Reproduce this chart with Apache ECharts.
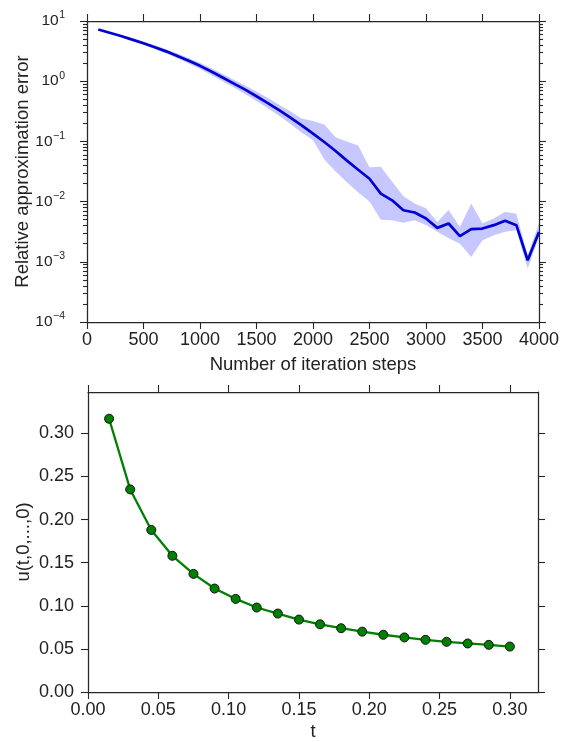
<!DOCTYPE html>
<html><head><meta charset="utf-8">
<script src="https://cdn.jsdelivr.net/npm/echarts@6/dist/echarts.min.js"></script>
<style>html,body{margin:0;padding:0;background:#fff}#c{width:568px;height:742px}</style>
</head><body><div id="c"></div>
<script>
// ---- top chart: relative approximation error vs iteration steps ----
const steps = [100,200,300,400,500,600,700,800,900,1000,1100,1200,1300,1400,1500,1600,1700,1800,1900,2000,
               2100,2200,2300,2400,2500,2600,2700,2800,2900,3000,3100,3200,3300,3400,3500,3600,3700,3800,3900,4000];
const errMean  = [7.24,6.38,5.62,4.90,4.27,3.67,3.13,2.63,2.19,1.80,1.45,1.15,0.912,0.724,0.562,0.432,0.331,0.248,0.184,0.135,
                  0.0977,0.0692,0.0479,0.0339,0.0240,0.0136,0.0105,0.00719,0.00659,0.00525,0.00366,0.00433,0.00266,0.00348,0.00357,0.00406,0.00479,0.00406,0.00106,0.00314];
const errUpper = [7.41,6.53,5.82,5.13,4.52,3.94,3.39,2.88,2.43,2.02,1.64,1.32,1.06,0.851,0.676,0.525,0.407,0.316,0.240,0.219,
                  0.191,0.117,0.100,0.0851,0.0372,0.0380,0.0214,0.0123,0.00933,0.00776,0.00457,0.00724,0.00380,0.00933,0.00437,0.00525,0.00676,0.00631,0.00129,0.00437];
const errLower = [7.08,6.24,5.43,4.68,4.03,3.43,2.88,2.40,1.97,1.60,1.27,1.00,0.785,0.610,0.468,0.355,0.266,0.195,0.141,0.105,
                  0.0501,0.0316,0.0209,0.0141,0.0100,0.00501,0.00490,0.00447,0.00490,0.00407,0.00316,0.00245,0.00200,0.00120,0.00229,0.00275,0.00316,0.00335,0.000776,0.00257];
const stepTicks = [0,500,1000,1500,2000,2500,3000,3500,4000];
const errTicks = [1e-4,1e-3,1e-2,1e-1,1,10];

// ---- bottom chart: u(t,0,...,0) vs t ----
const tValues = [0.015,0.03,0.045,0.06,0.075,0.09,0.105,0.12,0.135,0.15,0.165,0.18,0.195,0.21,0.225,0.24,0.255,0.27,0.285,0.30];
const uValues = [0.317,0.235,0.188,0.158,0.137,0.120,0.108,0.098,0.091,0.084,0.0785,0.074,0.070,0.0664,0.0633,0.0605,0.0582,0.0563,0.0547,0.0527];
const tTicks = [0,0.05,0.10,0.15,0.20,0.25,0.30];
const uTicks = [0,0.05,0.10,0.15,0.20,0.25,0.30];

const errMinorTicks = [];
for (let i = 0; i < errTicks.length - 1; i++) for (let k = 2; k <= 9; k++) errMinorTicks.push(+(errTicks[i] * k).toPrecision(3));

const FONT = 'Liberation Sans, Arial, Helvetica, sans-serif';
const AX = '#262626';
const TXT = '#222222';
const FS = 18;
const NFS = 18.5;

function axLine(show) { return { show: show, onZero: false, lineStyle: { color: AX, width: 1.25 } }; }
function tick(vals, len) { return { show: true, inside: false, length: len, customValues: vals, lineStyle: { color: AX, width: 1.1 } }; }
function nameStyle() { return { fontSize: NFS, color: TXT, fontFamily: FONT }; }

const supFmt = v => {
  const e = Math.round(Math.log10(v));
  return '{b|10}{s|' + (e < 0 ? '\u2212' + (-e) : e) + '}';
};

const option = {
  animation: false,
  backgroundColor: '#ffffff',
  grid: [
    { left: 87, top: 21, width: 452, height: 301 },
    { left: 88, top: 392, width: 450, height: 300 }
  ],
  xAxis: [
    { gridIndex: 0, type: 'value', min: 0, max: 4000, position: 'bottom',
      axisLine: axLine(true), axisTick: tick(stepTicks, 7), splitLine: { show: false },
      axisLabel: { customValues: stepTicks, margin: 9, fontSize: FS, color: TXT, fontFamily: FONT, formatter: v => String(v) },
      name: 'Number of iteration steps', nameLocation: 'middle', nameGap: 33, nameMoveOverlap: false, nameTextStyle: nameStyle() },
    { gridIndex: 0, type: 'value', min: 0, max: 4000, position: 'top',
      axisLine: axLine(true), axisTick: tick(stepTicks, 7), splitLine: { show: false }, axisLabel: { show: false } },
    { gridIndex: 1, type: 'value', min: 0, max: 0.32, position: 'bottom',
      axisLine: axLine(true), axisTick: tick(tTicks, 7), splitLine: { show: false },
      axisLabel: { customValues: tTicks, margin: 9, fontSize: FS, color: TXT, fontFamily: FONT, formatter: v => v.toFixed(2) },
      name: 't', nameLocation: 'middle', nameGap: 30, nameMoveOverlap: false, nameTextStyle: nameStyle() },
    { gridIndex: 1, type: 'value', min: 0, max: 0.32, position: 'top',
      axisLine: axLine(true), axisTick: tick(tTicks, 7), splitLine: { show: false }, axisLabel: { show: false } }
  ],
  yAxis: [
    { gridIndex: 0, type: 'log', logBase: 10, min: 1e-4, max: 10, position: 'left',
      axisLine: axLine(true), axisTick: tick(errTicks, 7), splitLine: { show: false }, minorTick: { show: false },
      axisLabel: { customValues: errTicks, margin: 22, formatter: supFmt,
        rich: { b: { fontSize: 15.5, color: TXT, fontFamily: FONT, verticalAlign: 'bottom', padding: [3, 0, 3, 0] },
                s: { fontSize: 10.5, color: TXT, fontFamily: FONT, verticalAlign: 'top', padding: [0, 0, 0, 0.5] } } },
      name: 'Relative approximation error', nameLocation: 'middle', nameGap: 55, nameRotate: 90, nameMoveOverlap: false, nameTextStyle: nameStyle() },
    { gridIndex: 0, type: 'log', logBase: 10, min: 1e-4, max: 10, position: 'right',
      axisLine: axLine(true), axisTick: tick(errTicks, 7), splitLine: { show: false }, axisLabel: { show: false } },
    { gridIndex: 0, type: 'log', logBase: 10, min: 1e-4, max: 10, position: 'left',
      axisLine: axLine(false), axisTick: tick(errMinorTicks, 4), splitLine: { show: false }, axisLabel: { show: false } },
    { gridIndex: 0, type: 'log', logBase: 10, min: 1e-4, max: 10, position: 'right',
      axisLine: axLine(false), axisTick: tick(errMinorTicks, 4), splitLine: { show: false }, axisLabel: { show: false } },
    { gridIndex: 1, type: 'value', min: 0, max: 0.348, position: 'left',
      axisLine: axLine(true), axisTick: tick(uTicks, 7), splitLine: { show: false },
      axisLabel: { customValues: uTicks, margin: 14, fontSize: FS, color: TXT, fontFamily: FONT, formatter: v => v.toFixed(2) },
      name: 'u(t,0,...,0)', nameLocation: 'middle', nameGap: 55, nameRotate: 90, nameMoveOverlap: false, nameTextStyle: nameStyle() },
    { gridIndex: 1, type: 'value', min: 0, max: 0.348, position: 'right',
      axisLine: axLine(true), axisTick: tick(uTicks, 7), splitLine: { show: false }, axisLabel: { show: false } }
  ],
  series: [
    { type: 'custom', xAxisIndex: 0, yAxisIndex: 0, silent: true, z: 1,
      data: [[steps[0], errMean[0]]],
      renderItem: function (params, api) {
        const up = steps.map((s, i) => api.coord([s, errUpper[i]]));
        const lo = steps.map((s, i) => api.coord([s, errLower[i]])).reverse();
        return { type: 'polygon', shape: { points: up.concat(lo) }, style: { fill: 'rgba(0,0,255,0.22)' } };
      } },
    { type: 'line', xAxisIndex: 0, yAxisIndex: 0, z: 3, showSymbol: false, symbol: 'none',
      data: steps.map((s, i) => [s, errMean[i]]),
      lineStyle: { color: '#0000d4', width: 2.7 } },
    { type: 'line', xAxisIndex: 2, yAxisIndex: 4, z: 3, symbol: 'circle', symbolSize: 9,
      data: tValues.map((t, i) => [t, uValues[i]]),
      lineStyle: { color: '#008000', width: 2.3 },
      itemStyle: { color: '#008000', borderColor: '#111111', borderWidth: 1 } }
  ]
};

const chart = echarts.init(document.getElementById('c'), null, { renderer: 'canvas' });
chart.setOption(option);
</script>
</body></html>
